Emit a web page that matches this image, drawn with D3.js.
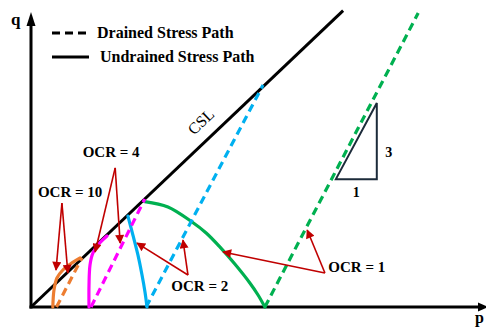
<!DOCTYPE html>
<html>
<head>
<meta charset="utf-8">
<script src="https://cdn.jsdelivr.net/npm/d3@7"></script>
<style>
  html, body { margin: 0; padding: 0; background: #fff; }
  svg { display: block; }
</style>
</head>
<body>
<script>
// Stress paths in p-q space for soils of increasing overconsolidation ratio.
const ocrLabels = ["OCR = 1", "OCR = 2", "OCR = 4", "OCR = 10"];
const pathColors = ["#00b050", "#00b0f0", "#ff00ff", "#ed7d31"];

// Critical state line q = M p
const cslSlope = 1.46;
const cslEndP = 68.6;

// Drained paths (slope 3): start on the p axis, end at [p, q]
const drainedStart = [[51.4, 0], [25.3, 0], [13.2, 0], [5.6, 0]];
const drainedEnd = [[85.1, 99.3], [51.0, 75.0], [25.0, 36.5], [11.2, 16.6]];

// Undrained paths, read as [p, q] points from start to the CSL
const undrainedOCR1 = [[51.4, 0], [49.9, 4.05], [48.1, 8.1], [44.8, 14.5], [41.5, 20.3], [38.5, 25.0], [35.4, 28.7], [30.1, 33.8], [25.0, 35.6]];
const undrainedOCR2 = [[25.5, 0], [25.05, 5.1], [24.4, 10.8], [23.5, 17.6], [22.4, 24.3], [21.3, 30.7]];
const undrainedOCR4 = [[12.75, 0], [12.75, 7.4], [12.97, 14.2], [13.6, 18.2], [14.9, 21.3], [16.7, 24.0]];
const undrainedOCR10 = [[4.8, 0], [5.05, 5.7], [5.7, 9.8], [7.0, 12.5], [9.0, 14.9], [10.8, 16.6]];
const undrainedPaths = [undrainedOCR1, undrainedOCR2, undrainedOCR4, undrainedOCR10];

// Annotation arrows: label anchor and arrow targets, in [p, q]
const labelAnchors = [[71.6, 11.8], [37.1, 5.4], [17.6, 50.7], [8.6, 37.2]];
const arrowFrom = [[64.6, 11.5], [34.5, 10.8], [18.5, 47.0], [6.8, 35.1]];
const arrowTo = [
  [[42.2, 18.6], [60.7, 26.0]],
  [[23.3, 21.6], [33.4, 22.6]],
  [[14.1, 18.6], [19.6, 21.6]],
  [[5.5, 12.5], [8.1, 11.5]]
];

// Slope triangle 1 : 3
const slopeTriangle = [[67.0, 43.2], [76.0, 43.2], [76.0, 68.9]];

const legendItems = ["Drained Stress Path", "Undrained Stress Path"];

const W = 486, H = 329;
const x = d3.scaleLinear().domain([0, 100]).range([31, 486]);
const y = d3.scaleLinear().domain([0, 100]).range([307, 11]);

const svg = d3.select("body").append("svg")
  .attr("width", W).attr("height", H)
  .attr("viewBox", `0 0 ${W} ${H}`);

const serif = "'Liberation Serif', 'DejaVu Serif', serif";
const red = "#c00000";

const defs = svg.append("defs");
defs.append("marker")
  .attr("id", "redHead")
  .attr("viewBox", "0 0 10 10")
  .attr("refX", 9).attr("refY", 5)
  .attr("markerWidth", 11).attr("markerHeight", 9)
  .attr("markerUnits", "userSpaceOnUse")
  .attr("orient", "auto")
  .append("path").attr("d", "M0,0 L10,5 L0,10 Z").attr("fill", red);

const line = d3.line().x(d => x(d[0])).y(d => y(d[1]));
const curve = d3.line().x(d => x(d[0])).y(d => y(d[1])).curve(d3.curveCatmullRom.alpha(0.5));

// Axes with arrowheads
const axisG = svg.append("g");
axisG.append("line")
  .attr("x1", x(0)).attr("y1", y(0) + 1.5)
  .attr("x2", x(0)).attr("y2", 20)
  .attr("stroke", "#000").attr("stroke-width", 3);
axisG.append("path")
  .attr("d", `M${x(0)},12 L${x(0) - 4.5},26 L${x(0) + 4.5},26 Z`)
  .attr("fill", "#000");
axisG.append("line")
  .attr("x1", x(0) - 1.5).attr("y1", y(0))
  .attr("x2", 480).attr("y2", y(0))
  .attr("stroke", "#000").attr("stroke-width", 3);
axisG.append("path")
  .attr("d", `M488,${y(0)} L478,${y(0) - 4.5} L478,${y(0) + 4.5} Z`)
  .attr("fill", "#000");
svg.append("text").attr("x", 11).attr("y", 25)
  .attr("font-family", serif).attr("font-weight", "bold").attr("font-size", 17)
  .text("q");
svg.append("text").attr("x", 475).attr("y", 323)
  .attr("font-family", serif).attr("font-weight", "bold").attr("font-size", 16)
  .text("p");

// Critical state line
svg.append("path")
  .attr("d", line([[0, 0], [cslEndP, cslSlope * cslEndP]]))
  .attr("stroke", "#000").attr("stroke-width", 3).attr("fill", "none");
const cslAngle = Math.atan2(y(cslSlope * cslEndP) - y(0), x(cslEndP) - x(0)) * 180 / Math.PI;
svg.append("text")
  .attr("transform", `translate(${x(37.6)},${y(62.2)}) rotate(${cslAngle})`)
  .attr("text-anchor", "middle").attr("dominant-baseline", "middle")
  .attr("font-family", serif).attr("font-size", 16)
  .text("CSL");

// Undrained (solid) paths
svg.append("g").selectAll("path").data(undrainedPaths).join("path")
  .attr("d", d => curve(d))
  .attr("stroke", (d, i) => pathColors[i])
  .attr("stroke-width", 3.2).attr("fill", "none")
  .attr("stroke-linecap", "round");

// Drained (dashed) paths
svg.append("g").selectAll("path").data(drainedStart).join("path")
  .attr("d", (d, i) => line([d, drainedEnd[i]]))
  .attr("stroke", (d, i) => pathColors[i])
  .attr("stroke-width", 3.2).attr("fill", "none")
  .attr("stroke-dasharray", "8,5");

// Slope triangle
svg.append("path")
  .attr("d", line(slopeTriangle) + "Z")
  .attr("stroke", "#1c2b3a").attr("stroke-width", 2).attr("fill", "none");
svg.append("text").attr("x", x(76.0) + 12).attr("y", y(52.3) + 5)
  .attr("text-anchor", "middle").attr("font-family", serif)
  .attr("font-weight", "bold").attr("font-size", 14).text("3");
svg.append("text").attr("x", x(71.5)).attr("y", y(43.2) + 18)
  .attr("text-anchor", "middle").attr("font-family", serif)
  .attr("font-weight", "bold").attr("font-size", 14).text("1");

// OCR annotations
const ann = svg.append("g");
arrowFrom.forEach((from, i) => {
  arrowTo[i].forEach(to => {
    ann.append("path")
      .attr("d", line([from, to]))
      .attr("stroke", red).attr("stroke-width", 1.6).attr("fill", "none")
      .attr("marker-end", "url(#redHead)");
  });
  ann.append("text")
    .attr("x", x(labelAnchors[i][0])).attr("y", y(labelAnchors[i][1]))
    .attr("text-anchor", "middle")
    .attr("font-family", serif).attr("font-weight", "bold").attr("font-size", 15)
    .text(ocrLabels[i]);
});

// Legend
const legend = svg.append("g");
legend.append("line").attr("x1", 52).attr("x2", 88).attr("y1", 33).attr("y2", 33)
  .attr("stroke", "#000").attr("stroke-width", 3).attr("stroke-dasharray", "8,5");
legend.append("line").attr("x1", 52).attr("x2", 89).attr("y1", 57).attr("y2", 57)
  .attr("stroke", "#000").attr("stroke-width", 3);
legend.selectAll("text").data(legendItems).join("text")
  .attr("x", (d, i) => i === 0 ? 97 : 100)
  .attr("y", (d, i) => i === 0 ? 38 : 62)
  .attr("font-family", serif).attr("font-weight", "bold").attr("font-size", 16)
  .text(d => d);
</script>
</body>
</html>
